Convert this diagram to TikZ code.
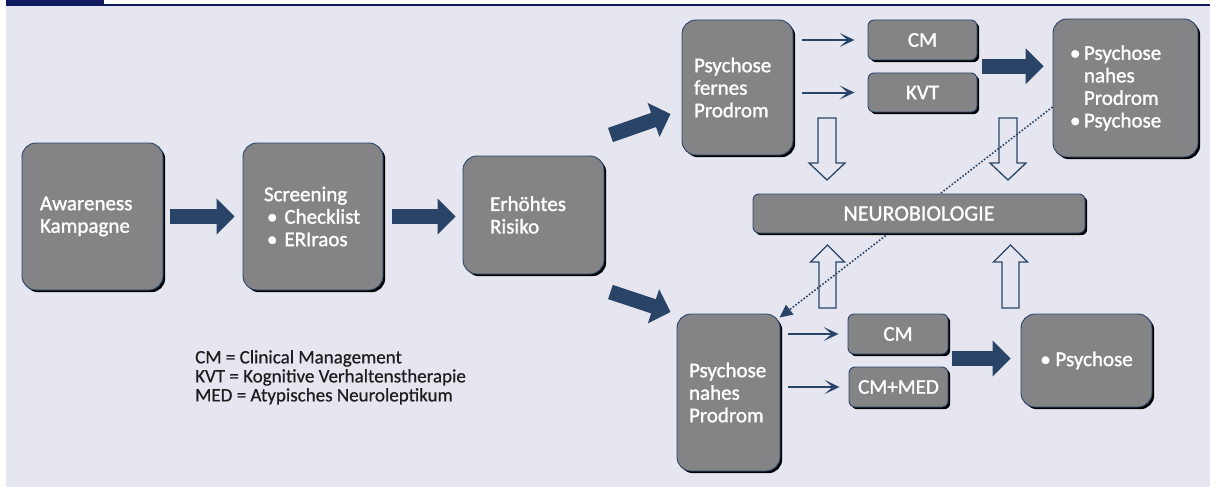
\documentclass[tikz,border=0pt]{standalone}
\usepackage{fontspec}
\setmainfont{Carlito}
\newfontfamily\boxfam{Carlito}[FakeBold=1.3]
\newfontfamily\legfam{Carlito}[FakeBold=0.6]
\usetikzlibrary{arrows.meta,shadows,calc}
\definecolor{bgc}{HTML}{E6E6F0}
\definecolor{navy}{HTML}{2A4468}
\definecolor{hdr}{HTML}{101A5E}
\definecolor{boxgray}{HTML}{848486}
\definecolor{legtext}{HTML}{1E1E1E}
\hyphenpenalty=10000 \exhyphenpenalty=10000
\newcommand\bxf{\boxfam\fontsize{21}{22.5}\selectfont}
\newcommand\lgf{\legfam\fontsize{19}{19}\selectfont}
\pgfdeclarelayer{bglayer}
\pgfdeclarelayer{midlayer}
\pgfsetlayers{bglayer,midlayer,main}
\tikzset{
  box/.style={draw=navy, line width=0.9pt, fill=boxgray, rounded corners=14pt,
    text=white, font=\bxf, align=left, inner sep=0pt,
    general shadow={fill=black, shadow xshift=2.2pt, shadow yshift=-2.2pt}},
  sbox/.style={box, rounded corners=6pt, align=center},
  fatarr/.style={draw=navy, line width=15pt, -{Triangle[length=18pt,width=35pt]}},
  thinarr/.style={draw=navy, line width=2pt, -{Stealth[length=15pt,width=14pt,inset=8pt]}},
  openarr/.style={draw=navy, line width=1.3pt, fill=bgc, line join=miter},
  opendown/.pic={\path[openarr] (-9,0) -- (9,0) -- (9,45) -- (18,45) -- (0,62) -- (-18,45) -- (-9,45) -- cycle;},
  openup/.pic={\path[openarr] (0,0) -- (17,17) -- (8.5,17) -- (8.5,63) -- (-8.5,63) -- (-8.5,17) -- (-17,17) -- cycle;},
  legend/.style={font=\lgf, text=legtext, align=left, inner sep=0pt}
}
\begin{document}
\begin{tikzpicture}[x=1pt,y=-1pt]
\useasboundingbox (0,0) rectangle (1210,487);
\begin{pgfonlayer}{bglayer}
  \fill[white] (0,0) rectangle (1210,487);
  \fill[bgc] (6,6.5) rectangle (1210,487);
  \fill[hdr] (6,0) rectangle (103.5,5);
  \fill[hdr] (6,3.7) rectangle (1210,6);
\end{pgfonlayer}

% boxes
\node[box, minimum width=141pt, minimum height=147pt, text width=105pt] (aw) at (92.5,216.5) {Awareness\\Kampagne};
\node[box, minimum width=140pt, minimum height=147pt, text width=98pt] (sc) at (313,216.5) {Screening\\\hspace*{3pt}• Checklist\\\hspace*{3pt}• ERIraos};
\node[box, minimum width=141pt, minimum height=118pt, text width=87pt] (er) at (533.5,215) {Erhöhtes\\Risiko};
\node[box, minimum width=111pt, minimum height=135pt, text width=87pt] (fe) at (737.5,87.5) {Psychose\\fernes\\Prodrom};
\node[sbox, minimum width=109pt, minimum height=40pt] (cm1) at (922.5,40) {CM};
\node[sbox, minimum width=109pt, minimum height=39pt] (kvt) at (922.5,92.5) {KVT};
\node[box, minimum width=145pt, minimum height=138pt, text width=111pt] (tr) at (1125.5,88) {•\,Psychose\\\hphantom{•\,}nahes\\\hphantom{•\,}Prodrom\\•\,Psychose};
\node[sbox, minimum width=332pt, minimum height=39pt, font=\boxfam\fontsize{22}{22.5}\selectfont] (nb) at (919,213.5) {NEUROBIOLOGIE};
\node[box, minimum width=103pt, minimum height=157pt, text width=79pt] (nh) at (728.5,392.5) {Psychose\\nahes\\Prodrom};
\node[sbox, minimum width=100pt, minimum height=40pt] (cm2) at (898,334) {CM};
\node[sbox, minimum width=99pt, minimum height=40pt] (cmm) at (898.5,387) {CM+MED};
\node[box, minimum width=131pt, minimum height=93pt, align=center] (ps) at (1086.5,360.5) {• Psychose};

\node[legend, anchor=north west] (leg) at (195,350) {CM = Clinical Management\\KVT = Kognitive Verhaltenstherapie\\MED = Atypisches Neuroleptikum};

% thick arrows
\draw[fatarr, shorten <=7pt, shorten >=8pt] (aw.east) -- (sc.west);
\draw[fatarr, shorten <=9pt, shorten >=7pt] (sc.east) -- (sc.east -| er.west);
\coordinate (d1s) at ($(er.east)+(6,-80)$);
\coordinate (d1e) at ($(fe.west)+(-11,26.5)$);
\coordinate (d2s) at ($(er.east)+(6,77)$);
\coordinate (d2e) at ($(nh.west)+(-6,-80.5)$);
\draw[fatarr] (d1s) -- (d1e);
\draw[fatarr] (d2s) -- (d2e);
\coordinate (m1) at ($(cm1.east)!0.5!(kvt.east)$);
\draw[fatarr, shorten <=5pt, shorten >=9pt] (m1) -- (m1 -| tr.west);
\coordinate (m2) at ($(cm2.east)!0.5!(cmm.east)+(0,-2)$);
\draw[fatarr, shorten <=4pt, shorten >=10pt] (m2) -- (m2 -| ps.west);

% thin arrows
\draw[thinarr, shorten <=9pt, shorten >=13pt] (fe.east |- cm1) -- (cm1.west);
\draw[thinarr, shorten <=9pt, shorten >=13pt] (fe.east |- kvt) -- (kvt.west);
\draw[thinarr, shorten <=8pt, shorten >=9pt] (nh.east |- cm2) -- (cm2.west);
\draw[thinarr, shorten <=8pt, shorten >=9pt] (nh.east |- cmm) -- (cmm.west);

\begin{pgfonlayer}{midlayer}
  \pic at (827,118) {opendown};
  \pic at (1008,118) {opendown};
  \pic at (827.5,245) {openup};
  \pic at (1010.5,245) {openup};
  \draw[navy, line width=1.6pt, dash pattern=on 1.6pt off 1.8pt, -{Triangle[length=13pt,width=12pt]}]
    ($(tr.west)+(0,19)$) -- ($(nh.north east)+(-1,4)$);
\end{pgfonlayer}
\end{tikzpicture}
\end{document}
